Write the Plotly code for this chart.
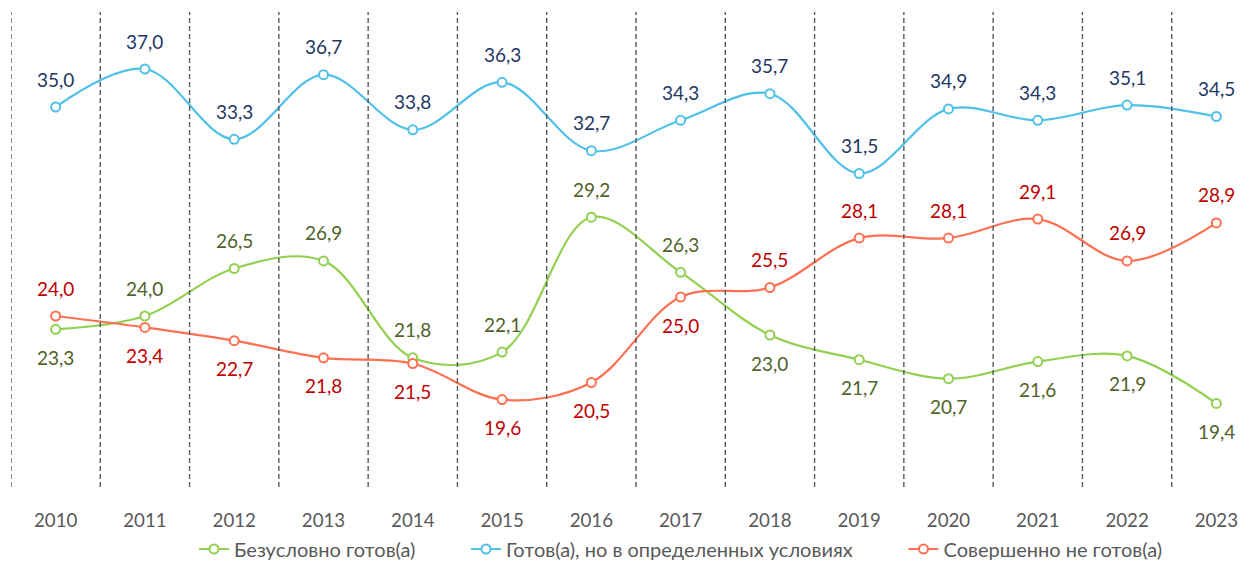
import plotly.graph_objects as go

years = ["2010", "2011", "2012", "2013", "2014", "2015", "2016",
         "2017", "2018", "2019", "2020", "2021", "2022", "2023"]
uncond = [23.3, 24.0, 26.5, 26.9, 21.8, 22.1, 29.2, 26.3, 23.0, 21.7, 20.7, 21.6, 21.9, 19.4]
cond = [35.0, 37.0, 33.3, 36.7, 33.8, 36.3, 32.7, 34.3, 35.7, 31.5, 34.9, 34.3, 35.1, 34.5]
never = [24.0, 23.4, 22.7, 21.8, 21.5, 19.6, 20.5, 25.0, 25.5, 28.1, 28.1, 29.1, 26.9, 28.9]

names = ["Безусловно готов(а)", "Готов(а), но в определенных условиях", "Совершенно не готов(а)"]
series = [uncond, cond, never]
line_colors = ["#92D050", "#4FC1E9", "#FF7052"]
text_colors = ["#4F6228", "#1F3864", "#C00000"]
# label placement: +1 above, -1 below
pos_unc = [-1, 1, 1, 1, 1, 1, 1, 1, -1, -1, -1, -1, -1, -1]
pos_cond = [1] * 14
pos_never = [1, -1, -1, -1, -1, -1, -1, -1, 1, 1, 1, 1, 1, 1]
positions = [pos_unc, pos_cond, pos_never]
legend_ids = ["legend", "legend2", "legend3"]
legend_x = [0.1464, 0.3640, 0.7140]

FONT = "Lato"
fig = go.Figure()
for name, vals, lc, lid in zip(names, series, line_colors, legend_ids):
    fig.add_trace(go.Scatter(
        x=years, y=vals, name=name, mode="lines+markers", legend=lid,
        line=dict(color=lc, width=2.2, shape="spline", smoothing=1.0),
        marker=dict(symbol="circle", size=9, color="white", line=dict(color=lc, width=2)),
        hoverinfo="skip"
    ))

annotations = []
for vals, tc, pos in zip(series, text_colors, positions):
    for i, (v, p) in enumerate(zip(vals, pos)):
        annotations.append(dict(
            x=i, y=v, xref="x", yref="y", text=f"{v:.1f}".replace(".", ","),
            showarrow=False, yshift=28 * p,
            font=dict(family=FONT, size=19, color=tc)
        ))

shapes = []
for i in range(len(years)):
    shapes.append(dict(type="line", xref="x", yref="paper", x0=i - 0.5, x1=i - 0.5,
                       y0=0, y1=1, line=dict(color="#595959", width=1.4, dash="5px,3px")))

legend_common = dict(orientation="h", xanchor="left", y=-0.1305, yanchor="middle",
                     font=dict(family=FONT, size=20, color="#595959"),
                     bgcolor="rgba(0,0,0,0)")

fig.update_layout(
    width=1253, height=561,
    margin=dict(l=3, r=0, t=4, b=82),
    plot_bgcolor="white", paper_bgcolor="white",
    font=dict(family=FONT, size=18, color="#595959"),
    xaxis=dict(type="category", range=[-0.5, 13.5], showgrid=False, zeroline=False,
               showline=False, ticks="", ticklabelstandoff=20,
               tickfont=dict(family=FONT, size=18.7, color="#595959")),
    yaxis=dict(range=[15, 40], visible=False, showgrid=False, zeroline=False),
    showlegend=True,
    legend=dict(x=legend_x[0], **legend_common),
    legend2=dict(x=legend_x[1], **legend_common),
    legend3=dict(x=legend_x[2], **legend_common),
    annotations=annotations,
    shapes=shapes,
)

fig.write_html("out.html")
